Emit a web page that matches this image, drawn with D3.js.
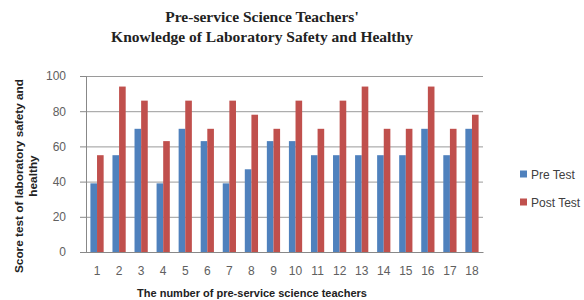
<!DOCTYPE html>
<html>
<head>
<meta charset="utf-8">
<script src="https://cdn.jsdelivr.net/npm/d3@7"></script>
<style>
  body { margin: 0; background: #fff; }
  svg { display: block; }
</style>
</head>
<body>
<svg id="chart" width="584" height="300"></svg>
<script>
// teachers 1..18
var teachers = ["1", "2", "3", "4", "5", "6", "7", "8", "9", "10", "11", "12", "13", "14", "15", "16", "17", "18"];
var preTest  = [39, 55, 70, 39, 70, 63, 39, 47, 63, 63, 55, 55, 55, 55, 55, 70, 55, 70];
var postTest = [55, 94, 86, 63, 86, 70, 86, 78, 70, 86, 70, 86, 94, 70, 70, 94, 70, 78];
var seriesNames = ["Pre Test", "Post Test"];
var seriesColors = ["#4f81bd", "#c0504d"];
var yTicks = [0, 20, 40, 60, 80, 100];

var svg = d3.select("#chart"),
    margin = { top: 76, right: 101, bottom: 48, left: 86 },
    width = +svg.attr("width") - margin.left - margin.right,
    height = +svg.attr("height") - margin.top - margin.bottom,
    g = svg.append("g").attr("transform", "translate(" + margin.left + "," + margin.top + ")");

var x0 = d3.scaleBand().domain(teachers).range([0, width]).paddingInner(0.4).paddingOuter(0.2);
var x1 = d3.scaleBand().domain(seriesNames).range([0, x0.bandwidth()]);
var y = d3.scaleLinear().domain([0, 100]).range([height, 0]);

var rows = teachers.map(function (t, i) {
    return { t: t, vals: [preTest[i], postTest[i]] };
});

// gridlines
g.append("g")
    .call(d3.axisLeft(y).tickValues(yTicks).tickSize(-width).tickFormat(""))
    .call(function (a) { a.select(".domain").remove(); })
    .selectAll("line").attr("stroke", "#9a9a9a").attr("stroke-width", 1);

// bars
var grp = g.selectAll(".grp")
    .data(rows)
    .enter().append("g")
    .attr("transform", function (d) { return "translate(" + x0(d.t) + ",0)"; });

grp.selectAll("rect")
    .data(function (d) { return d.vals.map(function (v, i) { return { k: seriesNames[i], v: v, c: seriesColors[i] }; }); })
    .enter().append("rect")
    .attr("x", function (d) { return x1(d.k); })
    .attr("width", x1.bandwidth())
    .attr("y", function (d) { return y(d.v); })
    .attr("height", function (d) { return height - y(d.v); })
    .attr("fill", function (d) { return d.c; });

// y axis
var ya = g.append("g")
    .call(d3.axisLeft(y).tickValues(yTicks).tickSize(6).tickPadding(14));
ya.select(".domain").attr("stroke", "#888");
ya.selectAll("line").attr("stroke", "#888");
ya.selectAll("text").attr("fill", "#606060").style("font-family", "Liberation Sans, Arial, sans-serif").style("font-size", "12px");

// x axis
var xa = g.append("g")
    .attr("transform", "translate(0," + height + ")")
    .call(d3.axisBottom(x0).tickSize(0).tickPadding(14));
xa.select(".domain").attr("stroke", "#888");
xa.selectAll("text").attr("fill", "#606060").style("font-family", "Liberation Sans, Arial, sans-serif").style("font-size", "12px");

// title
var title = svg.append("text")
    .attr("text-anchor", "middle")
    .style("font-family", "Liberation Serif, Times New Roman, serif")
    .style("font-weight", "bold")
    .style("font-size", "15.5px")
    .attr("fill", "#222");
title.append("tspan").attr("x", 262).attr("y", 22).text("Pre-service Science Teachers'");
title.append("tspan").attr("x", 262).attr("y", 42).text("Knowledge of Laboratory  Safety and Healthy");

// axis titles
svg.append("text")
    .attr("x", 252)
    .attr("y", 297)
    .attr("text-anchor", "middle")
    .style("font-family", "Liberation Sans, Arial, sans-serif")
    .style("font-weight", "bold")
    .style("font-size", "11px")
    .attr("fill", "#222")
    .text("The number of pre-service science teachers");

var yt = svg.append("text")
    .attr("transform", "translate(0,176) rotate(-90)")
    .attr("text-anchor", "middle")
    .style("font-family", "Liberation Sans, Arial, sans-serif")
    .style("font-weight", "bold")
    .style("font-size", "11.8px")
    .attr("fill", "#222");
yt.append("tspan").attr("x", 0).attr("y", 23).text("Score test of laboratory  safety and");
yt.append("tspan").attr("x", 0).attr("y", 37).text("healthy");

// legend
var leg = svg.append("g").attr("transform", "translate(520,174)");
seriesNames.forEach(function (s, i) {
    var row = leg.append("g").attr("transform", "translate(0," + (i * 28) + ")");
    row.append("rect").attr("x", 0).attr("y", -3.5).attr("width", 7).attr("height", 7).attr("fill", seriesColors[i]);
    row.append("text").attr("x", 11).attr("y", 4.5)
        .style("font-family", "Liberation Sans, Arial, sans-serif")
        .style("font-size", "12px")
        .attr("fill", "#404040")
        .text(s);
});
</script>
</body>
</html>
